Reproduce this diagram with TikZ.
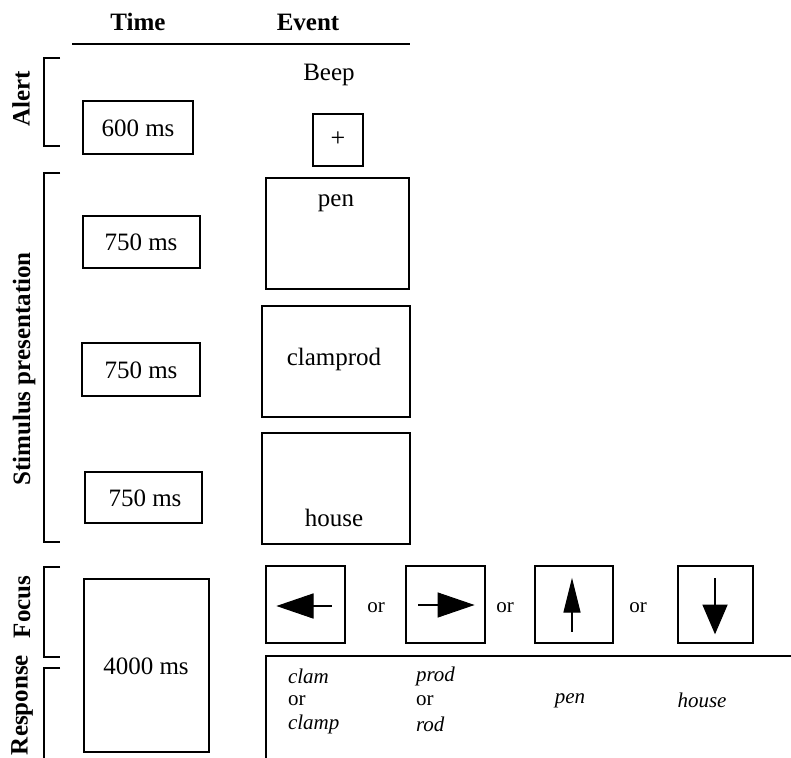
\documentclass[tikz,border=0pt]{standalone}
\usepackage{fontspec}
\setmainfont{Liberation Serif}
\begin{document}
\begin{tikzpicture}[x=1pt,y=-1pt,
  every node/.style={inner sep=0pt, outer sep=0pt, font=\fontsize{25}{30}\selectfont},
  lbl/.style={font=\fontsize{25}{30}\selectfont\bfseries, rotate=90},
  hdr/.style={font=\fontsize{25}{30}\selectfont\bfseries},
  small/.style={font=\fontsize{21}{24}\selectfont},
  resp/.style={font=\fontsize{21}{24}\selectfont\itshape},
  brk/.style={line width=2pt},
  frame/.style={line width=2pt},
  arr/.style={line width=2pt},
  head/.style={fill=black, draw=black, line width=1pt, line join=miter}
]
\useasboundingbox (0,0) rectangle (791,757);
\clip (0,0) rectangle (791,757);

% headers
\node[hdr] (time) at (138,22) {Time};
\node[hdr] (event) at (308,22) {Event};
\draw[line width=2pt] (72,44) -- (410,44);

% side labels and brackets
\node[lbl] (alert) at (21,99) {Alert};
\draw[brk] (60,58) -- (44,58) -- (44,146) -- (60,146);
\node[lbl] (stim) at (24,369) {Stimulus presentation};
\draw[brk] (60,173) -- (44,173) -- (44,542) -- (60,542);
\node[lbl] (focus) at (22,607) {Focus};
\draw[brk] (60,567) -- (44,567) -- (44,657) -- (60,657);
\node[lbl] (response) at (22,705) {Response};
\draw[brk] (60,668) -- (44,668) -- (44,760);

% time boxes
\draw[frame] (83,101) rectangle (193,154);
\node (t600) at (138,128) {600 ms};
\draw[frame] (83,216) rectangle (200,268);
\node (t750a) at (141,242) {750 ms};
\draw[frame] (82,343) rectangle (200,396);
\node (t750b) at (141,370) {750 ms};
\draw[frame] (85,472) rectangle (202,523);
\node (t750c) at (145,498) {750 ms};
\draw[frame] (84,579) rectangle (209,752);
\node (t4000) at (146,666) {4000 ms};

% events
\node (beep) at (329,75) {Beep};
\draw[frame] (313,114) rectangle (363,166);
\node[font=\fontsize{26}{28}\selectfont] (plus) at (338,139) {+};
\draw[frame] (266,178) rectangle (409,289);
\node (pen) at (336,203) {pen};
\draw[frame] (262,306) rectangle (410,417);
\node (clamprod) at (334,359) {clamprod};
\draw[frame] (262,433) rectangle (410,544);
\node (house) at (334,518) {house};

% focus arrows
\draw[frame] (266,566) rectangle (345,643);
\draw[arr] (313,606) -- (332,606);
\filldraw[head] (278,606) -- (313,594) -- (313,618) -- cycle;
\node[small] (or1) at (376,608) {or};
\draw[frame] (406,566) rectangle (485,643);
\draw[arr] (418,605) -- (438,605);
\filldraw[head] (473,605) -- (438,593) -- (438,617) -- cycle;
\node[small] (or2) at (505,608) {or};
\draw[frame] (535,566) rectangle (613,643);
\draw[arr] (572,612) -- (572,632);
\filldraw[head] (572,580) -- (564,612) -- (580,612) -- cycle;
\node[small] (or3) at (638,608) {or};
\draw[frame] (678,566) rectangle (753,643);
\draw[arr] (715,578) -- (715,605);
\filldraw[head] (715,633) -- (703,605) -- (727,605) -- cycle;

% response area
\draw[frame] (266,760) -- (266,656) -- (791,656);
\node[resp, anchor=west] (clam) at (288,676) {clam};
\node[small, anchor=west] (or4) at (288,701) {or};
\node[resp, anchor=west] (clamp) at (288,724) {clamp};
\node[resp, anchor=west] (prod) at (416,676) {prod};
\node[small, anchor=west] (or5) at (416,701) {or};
\node[resp, anchor=west] (rod) at (416,724) {rod};
\node[resp] (rpen) at (570,701) {pen};
\node[resp] (rhouse) at (702,700) {house};
\end{tikzpicture}
\end{document}
